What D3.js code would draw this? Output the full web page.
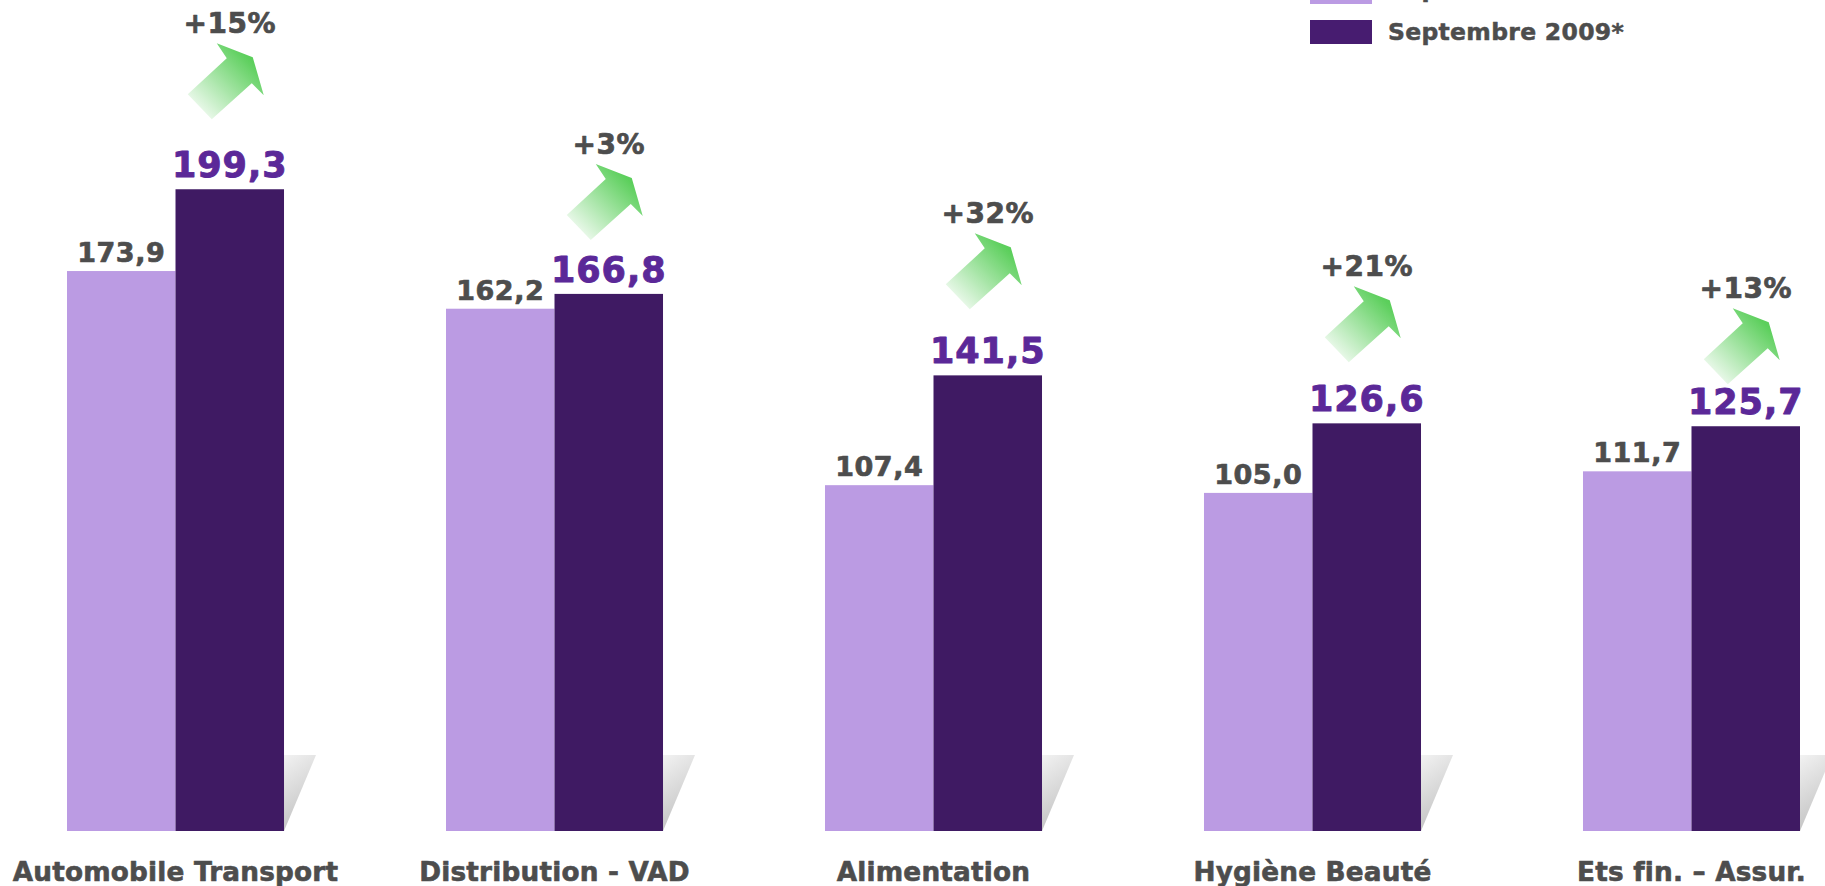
<!DOCTYPE html>
<html lang="fr">
<head>
<meta charset="UTF-8">
<title>Septembre 2008 / Septembre 2009</title>
<script src="https://d3js.org/d3.v7.min.js"></script>
<style>
    html, body { margin: 0; padding: 0; background: #fff; }
    body { font-family: "DejaVu Sans", Verdana, sans-serif; }
    svg { display: block; }
    text { font-weight: bold; paint-order: stroke; stroke-linejoin: round; }
    .val-old { font-size: 27px; fill: #4d4d4d; stroke: #4d4d4d; stroke-width: 0.7px; text-anchor: middle; letter-spacing: 0.5px; }
    .val-new { font-size: 35px; fill: #5b2898; stroke: #5b2898; stroke-width: 0.9px; text-anchor: middle; letter-spacing: 1px; }
    .growth { font-size: 28px; fill: #4d4d4d; stroke: #4d4d4d; stroke-width: 0.7px; text-anchor: middle; letter-spacing: 0.5px; }
    .cat { font-size: 26.3px; fill: #4d4d4d; stroke: #4d4d4d; stroke-width: 0.6px; text-anchor: middle; letter-spacing: 0.2px; }
    .legend { font-size: 23.5px; fill: #4d4d4d; stroke: #4d4d4d; stroke-width: 0.5px; letter-spacing: 0.3px; }
</style>
</head>
<body>
<svg width="1825" height="886"></svg>
<script>
// data
const categories = ["Automobile Transport", "Distribution - VAD", "Alimentation", "Hygiène Beauté", "Ets fin. – Assur."];
const seriesNames = ["Septembre 2008", "Septembre 2009*"];
const sept2008 = [173.9, 162.2, 107.4, 105.0, 111.7];
const sept2009 = [199.3, 166.8, 141.5, 126.6, 125.7];
const growth = ["+15%", "+3%", "+32%", "+21%", "+13%"];

// layout: how far above the dark bar the growth label sits
const growthLift = [156, 140, 152, 147, 128];

const colors = ["#bb9be3", "#3f1a63"];
const fmt = v => d3.format(".1f")(v).replace(".", ",");

const svg = d3.select("svg");
const baseY = 831;

const x0 = d3.scaleBand()
    .domain(categories)
    .range([67, 1800])
    .paddingInner(0.4274)
    .paddingOuter(0);

const x1 = d3.scaleBand()
    .domain(seriesNames)
    .range([0, x0.bandwidth()])
    .padding(0);

const y = d3.scaleLinear()
    .domain([0, 200])
    .range([baseY, baseY - 644]);

const defs = svg.append("defs");

const shade = defs.append("linearGradient")
    .attr("id", "shade")
    .attr("x1", 0).attr("y1", 0).attr("x2", 0.3).attr("y2", 1);
shade.append("stop").attr("offset", "0%").attr("stop-color", "#f2f2f2");
shade.append("stop").attr("offset", "100%").attr("stop-color", "#c2c2c2");

const green = defs.append("linearGradient")
    .attr("id", "green")
    .attr("x1", 0).attr("y1", 1).attr("x2", 1).attr("y2", 0);
green.append("stop").attr("offset", "0%").attr("stop-color", "#ffffff").attr("stop-opacity", 0);
green.append("stop").attr("offset", "15%").attr("stop-color", "#e8f8e8").attr("stop-opacity", 1);
green.append("stop").attr("offset", "80%").attr("stop-color", "#5ccf5c");
green.append("stop").attr("offset", "100%").attr("stop-color", "#55cc55");

const rows = categories.map((c, i) => ({
    cat: c, old: sept2008[i], cur: sept2009[i], growth: growth[i], lift: growthLift[i]
}));

const g = svg.selectAll(".group")
    .data(rows)
    .enter()
    .append("g")
    .attr("class", "group")
    .attr("transform", d => `translate(${x0(d.cat)},0)`);

// grey shadow wedge behind each pair
g.append("path")
    .attr("d", () => {
        const r = x0.bandwidth();
        return `M${r},${baseY - 76} L${r + 32},${baseY - 76} L${r},${baseY} Z`;
    })
    .attr("fill", "url(#shade)");

g.append("rect")
    .attr("x", x1(seriesNames[0]))
    .attr("y", d => y(d.old))
    .attr("width", x1.bandwidth())
    .attr("height", d => baseY - y(d.old))
    .attr("fill", colors[0]);

g.append("rect")
    .attr("x", x1(seriesNames[1]))
    .attr("y", d => y(d.cur))
    .attr("width", x1.bandwidth())
    .attr("height", d => baseY - y(d.cur))
    .attr("fill", colors[1]);

g.append("text")
    .attr("class", "val-old")
    .attr("x", x1(seriesNames[0]) + x1.bandwidth() / 2)
    .attr("y", d => y(d.old) - 9)
    .text(d => fmt(d.old));

g.append("text")
    .attr("class", "val-new")
    .attr("x", x1(seriesNames[1]) + x1.bandwidth() / 2)
    .attr("y", d => y(d.cur) - 12)
    .text(d => fmt(d.cur));

// growth label + arrow
const ann = g.append("g")
    .attr("transform", d => `translate(${x1(seriesNames[1]) + x1.bandwidth() / 2},${y(d.cur) - d.lift})`);

ann.append("text")
    .attr("class", "growth")
    .text(d => d.growth);

ann.append("path")
    .attr("d", "M-42,61 L-3,25 L-13,10 L23,24 L34,62 L22,50 L-18,86 Z")
    .attr("fill", "url(#green)");

g.append("text")
    .attr("class", "cat")
    .attr("x", x0.bandwidth() / 2)
    .attr("y", 881)
    .text(d => d.cat);

// legend (first entry runs off the top edge, as in the original)
const leg = svg.append("g").attr("transform", "translate(1310,0)");
seriesNames.forEach((s, i) => {
    const ly = -20 + i * 40;
    leg.append("rect")
        .attr("x", 0).attr("y", ly)
        .attr("width", 62).attr("height", 24)
        .attr("fill", i === 0 ? colors[0] : "#471c70");
    leg.append("text")
        .attr("class", "legend")
        .attr("x", 78).attr("y", ly + (i === 0 ? 17 : 20))
        .text(s);
});
</script>
</body>
</html>
